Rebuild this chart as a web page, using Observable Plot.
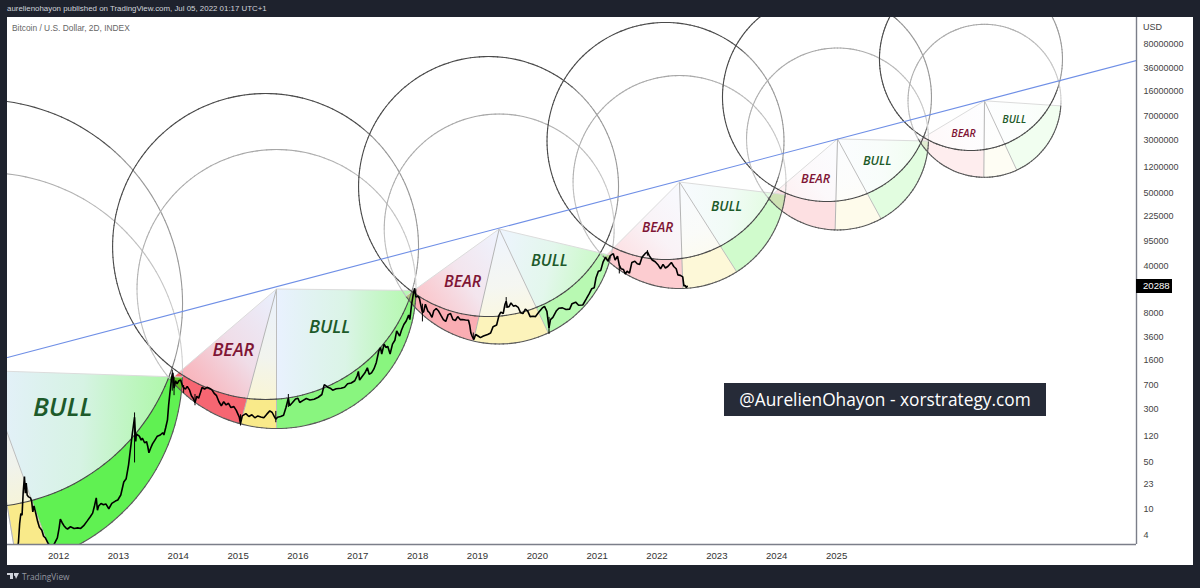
<!DOCTYPE html>
<html><head><meta charset="utf-8">
<script src="https://cdn.jsdelivr.net/npm/d3@7"></script>
<script src="https://cdn.jsdelivr.net/npm/@observablehq/plot@0.6"></script>
<style>
html,body{margin:0;padding:0;background:#1e222d;overflow:hidden;width:1200px;height:588px;font-family:"Liberation Sans",sans-serif}
.abs{position:absolute;white-space:nowrap}
svg{position:absolute;left:0;top:0}
</style></head><body>
<div class="abs" style="left:7px;top:17px;width:1186px;height:548px;background:#fff"></div>
<div id="chart"></div>
<div class="abs" style="left:7px;top:4px;font-size:7.9px;color:#d1d4dc;font-family:'Liberation Sans'">aurelienohayon published on TradingView.com, Jul 05, 2022 01:17 UTC+1</div>
<div class="abs" style="left:12px;top:23px;font-size:8.4px;color:#666;font-family:'Liberation Sans'">Bitcoin / U.S. Dollar, 2D, INDEX</div>
<div class="abs" style="left:1143px;top:22px;font-size:9px;color:#444">USD</div>
<div class="abs" style="left:1136px;top:279px;width:36px;height:14px;line-height:14px;background:#000;color:#fff;font-size:9.6px;text-align:left;text-indent:7px">20288</div>
<div class="abs" style="left:724px;top:383px;width:322px;height:33px;line-height:33px;background:#262b38;color:#fff;font-size:17.3px;text-align:center;font-family:'Open Sans'">@AurelienOhayon - xorstrategy.com</div>
<div class="abs" style="left:7px;top:573px;width:6px;height:2px;background:#d1d4dc"></div>
<div class="abs" style="left:10px;top:573px;width:3px;height:6px;background:#d1d4dc"></div>
<div class="abs" style="left:13.5px;top:573px;width:2.5px;height:2.5px;border-radius:50%;background:#d1d4dc"></div>
<div class="abs" style="left:14px;top:573px;width:0;height:0;border-left:2px solid transparent;border-right:3px solid transparent;border-top:6px solid #d1d4dc"></div>
<div class="abs" style="left:22px;top:570px;font-size:8.3px;line-height:13px;color:#9598a1;font-family:'Open Sans'">TradingView</div>
<script>
// ---- axis ticks ----
const yearTicks = [2012,2013,2014,2015,2016,2017,2018,2019,2020,2021,2022,2023,2024,2025];
const priceTicks = [80000000,36000000,16000000,7000000,3000000,1200000,500000,225000,95000,40000,8000,3600,1600,700,300,120,50,23,10,4];

// ---- the fib circles: each cycle has an apex circle and a "ring" circle ----
const apexYear   = [2010.764,2015.642,2019.363,2022.376,2025.016,2027.472];
const apexPrice  = [1135,18500,144500,721000,3150000,11640000];
const apexRadius = [3.308,2.331,1.921,1.779,1.520,1.278];   // in years
const ringYear   = [2010.663,2015.459,2019.185,2022.142,2024.840,2027.246];
const ringPrice  = [11270,79250,618000,2938000,13240000,48640000];
const ringRadius = [3.409,2.556,2.172,1.980,1.746,1.529];   // in years

// ---- fan edges, degrees clockwise from the +x direction ----
const edgeBearStart = [80.5,139.5,144.3,135,139.5,149];
const edgeBearEnd   = [80.5,105,103,88.2,91.5,90.5];
const edgeBullStart = [70,90,64.7,57.5,61.4,65];
const edgeBullEnd   = [1.9,0.6,13.3,6.8,1.3,3.8];

// ---- trend line ----
const trendYears  = [2011.147,2030.01];
const trendPrices = [1774,46240000];

// ---- annotations ----
const cycleWords  = ["BULL","BEAR","BULL","BEAR","BULL","BEAR","BULL","BEAR","BULL","BEAR","BULL"];
const wordYears   = [2012.07,2014.92,2016.53,2018.75,2020.20,2022.01,2023.16,2024.65,2025.68,2027.12,2027.97];
const wordPrices  = [320,2254,4955,23900,49100,152000,312000,813000,1507000,3800000,6140000];

// ---- BTC/USD closes ----
const btcSeries = [
[2011.20,0.9],[2011.28,1.6],[2011.33,3.2],[2011.35,6],[2011.37,8.5],[2011.39,8],[2011.41,18],[2011.43,30],[2011.445,17],[2011.46,24],[2011.475,16],[2011.50,15],[2011.53,14.5],[2011.55,13],[2011.57,9],[2011.59,11],[2011.62,8.5],[2011.65,6.5],[2011.68,5.3],[2011.72,4.8],[2011.75,3.9],[2011.78,3.7],[2011.83,3],[2011.88,2.8],[2011.92,2.9],
[2011.98,3.7],[2012.01,5.2],[2012.03,7],[2012.06,6.2],[2012.09,5.6],[2012.12,5.2],[2012.15,5],[2012.2,5.4],[2012.26,5.1],[2012.32,5.2],[2012.37,5.1],[2012.42,5.6],[2012.48,6.6],[2012.53,7.6],[2012.57,8.6],[2012.60,11],[2012.63,14.5],[2012.65,9.5],[2012.67,11],[2012.71,12],[2012.75,11.5],[2012.79,11.8],[2012.84,10],[2012.89,12],[2012.95,13],[2012.99,13.5],
[2013.04,16],[2013.09,25],[2013.13,28],[2013.17,45],[2013.20,75],[2013.23,125],[2013.27,230],[2013.29,100],[2013.30,130],[2013.32,125],[2013.35,120],[2013.38,105],[2013.40,112],[2013.44,95],[2013.47,100],[2013.49,85],[2013.51,68],[2013.54,80],[2013.57,92],[2013.61,105],[2013.65,120],[2013.70,125],[2013.74,135],[2013.76,125],[2013.79,160],[2013.82,210],[2013.84,350],[2013.86,520],[2013.89,900],[2013.91,1050],[2013.93,620],[2013.955,800],[2013.98,720],
[2014.01,800],[2014.04,820],[2014.07,680],[2014.09,630],[2014.12,600],[2014.15,660],[2014.19,580],[2014.22,480],[2014.25,440],[2014.28,380],[2014.31,470],[2014.34,440],[2014.37,530],[2014.40,640],[2014.44,600],[2014.48,640],[2014.52,620],[2014.56,590],[2014.60,520],[2014.64,480],[2014.68,390],[2014.72,340],[2014.76,390],[2014.80,350],[2014.84,370],[2014.88,320],[2014.93,330],[2014.97,290],
[2015.02,230],[2015.04,185],[2015.07,240],[2015.13,260],[2015.18,235],[2015.23,250],[2015.28,225],[2015.33,240],[2015.38,232],[2015.43,225],[2015.48,255],[2015.53,285],[2015.57,270],[2015.61,230],[2015.63,215],[2015.66,230],[2015.71,235],[2015.76,245],[2015.80,320],[2015.84,440],[2015.86,340],[2015.91,380],[2015.96,430],
[2016.0,440],[2016.03,380],[2016.08,405],[2016.14,435],[2016.20,415],[2016.27,425],[2016.34,455],[2016.40,500],[2016.44,700],[2016.47,670],[2016.50,640],[2016.54,620],[2016.58,580],[2016.64,610],[2016.72,620],[2016.78,640],[2016.83,720],[2016.89,740],[2016.95,800],[2016.99,950],
[2017.01,1100],[2017.03,820],[2017.07,920],[2017.12,1050],[2017.16,1250],[2017.19,1000],[2017.23,1050],[2017.27,1200],[2017.31,1500],[2017.35,2200],[2017.38,2500],[2017.40,2000],[2017.44,2800],[2017.47,2500],[2017.50,2600],[2017.54,2000],[2017.58,2800],[2017.62,3200],[2017.65,4400],[2017.70,3700],[2017.73,4500],[2017.77,5500],[2017.81,6200],[2017.85,7600],[2017.87,6500],[2017.90,11000],[2017.93,16000],[2017.95,19000],[2017.97,14000],
[2018.0,14500],[2018.03,13500],[2018.05,11000],[2018.08,8300],[2018.10,8500],[2018.13,11000],[2018.17,8700],[2018.20,8200],[2018.24,7000],[2018.27,8800],[2018.31,9500],[2018.35,8700],[2018.39,7500],[2018.43,6500],[2018.47,6100],[2018.51,7700],[2018.55,8000],[2018.59,6500],[2018.63,6300],[2018.67,7200],[2018.71,6500],[2018.75,6500],[2018.8,6400],[2018.85,6350],[2018.87,5400],[2018.89,4100],[2018.91,3700],[2018.94,3300],[2018.97,3900],
[2019.01,3700],[2019.05,3500],[2019.10,3700],[2019.17,3900],[2019.22,4100],[2019.26,5100],[2019.32,5400],[2019.36,7500],[2019.39,8400],[2019.43,8000],[2019.46,11000],[2019.48,12200],[2019.50,9900],[2019.53,10200],[2019.56,11500],[2019.6,10300],[2019.64,10500],[2019.68,9900],[2019.72,8200],[2019.76,8000],[2019.80,9300],[2019.84,8700],[2019.88,7200],[2019.93,7300],[2019.97,7200],
[2020.03,8500],[2020.08,9600],[2020.12,10200],[2020.16,8600],[2020.195,4900],[2020.22,6500],[2020.26,7000],[2020.32,8800],[2020.36,9600],[2020.42,9700],[2020.48,9200],[2020.54,9300],[2020.58,11200],[2020.64,11800],[2020.69,10600],[2020.76,10700],[2020.82,13300],[2020.87,16000],[2020.91,18700],[2020.95,19300],[2020.98,27000],
[2021.02,34000],[2021.06,35000],[2021.1,47000],[2021.14,55000],[2021.18,48000],[2021.22,58000],[2021.27,62000],[2021.30,50000],[2021.34,57000],[2021.37,42000],[2021.40,37000],[2021.44,36000],[2021.47,31000],[2021.50,34000],[2021.54,32000],[2021.58,46000],[2021.63,48000],[2021.67,44000],[2021.71,43000],[2021.75,55000],[2021.80,62000],[2021.84,66000],[2021.87,58000],[2021.92,50000],[2021.97,47000],
[2022.02,42000],[2022.06,37000],[2022.10,43000],[2022.14,38000],[2022.18,40000],[2022.24,46000],[2022.28,40000],[2022.32,37000],[2022.35,30000],[2022.39,29500],[2022.43,28000],[2022.45,20500],[2022.47,21000],[2022.49,19500],[2022.505,20288]
];
const btcWickYears = [2013.27,2013.90,2013.93,2014.09,2014.28,2015.04,2015.63,2015.84,2018.08,2018.93,2019.48,2020.195,2021.37,2021.84];
const btcWickLows  = [48,560,480,520,340,170,190,320,6000,3200,9500,3900,31000,57000];
const btcWickHighs = [266,1150,900,680,500,250,280,500,11000,4100,13800,7000,42000,69000];

// ---- derived geometry helpers (circles are round on screen) ----
const pxPerYear = 59.85, pxPerDecade = 67.25, aspect = pxPerYear / pxPerDecade;
const rad = Math.PI / 180;
const toUV = (yr, p) => [yr, Math.log10(p) / aspect];
const fromUV = (u, v) => ({x: u, y: 10 ** (v * aspect)});
const onApexCircle = (i, th, r = apexRadius[i]) => {
  const [u, v] = toUV(apexYear[i], apexPrice[i]);
  return fromUV(u + r * Math.cos(th * rad), v - r * Math.sin(th * rad));
};
function innerDist(i, th) {
  const [au, av] = toUV(apexYear[i], apexPrice[i]);
  const [bu, bv] = toUV(ringYear[i], ringPrice[i]);
  const dx = Math.cos(th * rad), dy = -Math.sin(th * rad);
  const b = (au - bu) * dx + (av - bv) * dy;
  const c = (au - bu) ** 2 + (av - bv) ** 2 - ringRadius[i] ** 2;
  return Math.min(-b + Math.sqrt(b * b - c), apexRadius[i]);
}
const angles = (a, b) => { const o = []; const n = Math.max(2, Math.ceil(Math.abs(a - b))); for (let k = 0; k <= n; k++) o.push(a + (b - a) * k / n); return o; };
const sectorPts = (i, a, b) => [{x: apexYear[i], y: apexPrice[i]}, ...angles(a, b).map(t => onApexCircle(i, t, innerDist(i, t))), {x: apexYear[i], y: apexPrice[i]}];
const ringPts = (i, a, b) => { const ts = angles(a, b); return [...ts.map(t => onApexCircle(i, t)), ...ts.slice().reverse().map(t => onApexCircle(i, t, innerDist(i, t)))]; };

// ---- styles ----
const base = {bear: "rgb(240,0,20)", hold: "rgb(245,220,60)", bull: "rgb(20,235,0)"};
const tint = "#cfe0ff";
const ringOpacity = {bear: [0, .6, .32, .2, .12, .07], hold: [.6, .6, .35, .2, .1, .06], bull: [.68, .5, .3, .2, .12, .06]};
const fanOpacity = [.36, .32, .24, .14, .07, .03];
const tintOpacity = [.5, .45, .35, .15, .08, .04];
const kinds = ["bear", "hold", "bull"];
const spans = i => ({bear: [edgeBearStart[i], edgeBearEnd[i]], hold: [edgeBearEnd[i], edgeBullStart[i]], bull: [edgeBullStart[i], edgeBullEnd[i]]});
const wordSizes = [26, 18, 18, 16, 16, 13.5, 13.5, 12.5, 12.5, 10.5, 10.5];

function gradients(index, scales) {
  const defs = d3.create("svg:defs");
  apexYear.forEach((yr, i) => kinds.forEach(k => {
    const s = spans(i)[k];
    const dirAngle = k === "bull" ? s[1] : k === "bear" ? s[0] : (s[0] + s[1]) / 2;
    const tip = onApexCircle(i, dirAngle);
    const end = fanOpacity[i] * (k === "hold" ? 0.8 : 1);
    const g = defs.append("linearGradient").attr("id", `fan${i}${k}`).attr("gradientUnits", "userSpaceOnUse")
      .attr("x1", scales.x(yr)).attr("y1", scales.y(apexPrice[i]))
      .attr("x2", scales.x(tip.x)).attr("y2", scales.y(tip.y));
    g.append("stop").attr("offset", "0").attr("stop-color", tint).attr("stop-opacity", tintOpacity[i]);
    g.append("stop").attr("offset", "0.5").attr("stop-color", d3.interpolateRgb(tint, base[k])(.25)).attr("stop-opacity", (tintOpacity[i] + end) / 2);
    g.append("stop").attr("offset", "1").attr("stop-color", base[k]).attr("stop-opacity", end);
  }));
  return defs.node();
}

const fills = [];
for (let i = apexYear.length - 1; i >= 0; i--) {
  const sp = spans(i);
  for (const k of kinds) {
    const [a, b] = sp[k];
    if (Math.abs(a - b) < 0.01) continue;
    fills.push(Plot.line(sectorPts(i, a, b), {x: "x", y: "y", fill: `url(#fan${i}${k})`, stroke: "none", clip: true}));
    fills.push(Plot.line(ringPts(i, a, b), {x: "x", y: "y", fill: base[k], fillOpacity: ringOpacity[k][i], stroke: "none", clip: true}));
  }
}

// Circle outlines as short coloured chords; shade depends on the angle around the circle
const lerp = d3.interpolateRgb;
const segs = [];
function addCircle(cx, cp, r, shade) {
  const [u, v] = toUV(cx, cp);
  for (let t = 0; t < 360; t += 2) {
    const p = fromUV(u + r * Math.cos(t * rad), v - r * Math.sin(t * rad));
    const q = fromUV(u + r * Math.cos((t + 2) * rad), v - r * Math.sin((t + 2) * rad));
    segs.push({x1: p.x, y1: p.y, x2: q.x, y2: q.y, c: shade(t + 1)});
  }
}
apexYear.forEach((_, i) => {
  addCircle(ringYear[i], ringPrice[i], ringRadius[i], t => (t >= 315 || t < 15) ? "#9a9a9a" : (t < 22 ? lerp("#9a9a9a", "#4a4a4a")((t - 15) / 7) : (t > 308 ? lerp("#4a4a4a", "#9a9a9a")((t - 308) / 7) : "#4a4a4a")));
  const lo = edgeBullEnd[i], hi = edgeBearStart[i];
  addCircle(apexYear[i], apexPrice[i], apexRadius[i], t => (t >= lo && t <= Math.max(hi, lo + 1)) ? "#5a5a5a" : (t < 180 ? "#c0c0c0" : (t < 270 ? lerp("#b4b4b4", "#a6a6a6")((t - 180) / 90) : lerp("#a6a6a6", "#d4d4d4")((t - 270) / 90))));
});

// Fan edges
const edges = [];
apexYear.forEach((yr, i) => {
  [[edgeBearStart[i], "#dcdcdc"], [edgeBearEnd[i], "#b4b4b4"], [edgeBullStart[i], "#bdbdbd"], [edgeBullEnd[i], "#dcdcdc"]].forEach(([t, c]) => {
    const p = onApexCircle(i, t);
    edges.push({x1: yr, y1: apexPrice[i], x2: p.x, y2: p.y, c});
  });
});

const plot = Plot.plot({
  width: 1200, height: 588,
  marginLeft: 7, marginRight: 64, marginTop: 17, marginBottom: 44,
  style: {background: "transparent", overflow: "visible"},
  x: {type: "linear", domain: [2011.147, 2030.012], label: null, axis: null},
  y: {type: "log", domain: [10 ** 0.4685, 10 ** 8.3045], label: null, axis: null},
  color: {type: "identity"},
  marks: [
    gradients,
    ...fills,
    Plot.link(edges, {x1: "x1", y1: "y1", x2: "x2", y2: "y2", stroke: "c", strokeWidth: 1, clip: true}),
    Plot.link(segs, {x1: "x1", y1: "y1", x2: "x2", y2: "y2", stroke: "c", strokeWidth: 1.1, strokeLinecap: "round", clip: true}),
    Plot.line(trendYears.map((x, i) => ({x, y: trendPrices[i]})), {x: "x", y: "y", stroke: "#6f8fe6", strokeWidth: 1.1, clip: true}),
    Plot.ruleX(btcWickYears.map((x, i) => ({x, lo: btcWickLows[i], hi: btcWickHighs[i]})), {x: "x", y1: "lo", y2: "hi", stroke: "#000", strokeWidth: 1, clip: true}),
    Plot.line(btcSeries, {x: d => d[0], y: d => d[1], stroke: "#000", strokeWidth: 1.6, strokeLinejoin: "miter", clip: true}),
    Plot.text(cycleWords.map((w, i) => ({w, x: wordYears[i], y: wordPrices[i], s: wordSizes[i]})), {
      x: "x", y: "y", text: "w", fontSize: "s", fontWeight: 600, fontStyle: "italic", fontFamily: "'Open Sans'",
      fill: d => d.w === "BULL" ? "#1d5a2a" : "#7f1535"
    }),
    Plot.ruleX([2030.012], {stroke: "#7b7e89", strokeWidth: 1.4}),
    Plot.ruleY([10 ** 0.4685], {stroke: "#7b7e89", strokeWidth: 1.4}),
    Plot.text(yearTicks, {x: d => d, text: d => String(d), frameAnchor: "bottom", dy: 14.5, fontSize: 9.6, fill: "#333", fontFamily: "Liberation Sans"}),
    Plot.text(priceTicks, {y: d => d, text: d => String(d), frameAnchor: "right", dx: 7, textAnchor: "start", fontSize: 9, fill: "#444", fontFamily: "Liberation Sans"})
  ]
});
document.getElementById("chart").append(plot);
</script>
</body></html>
